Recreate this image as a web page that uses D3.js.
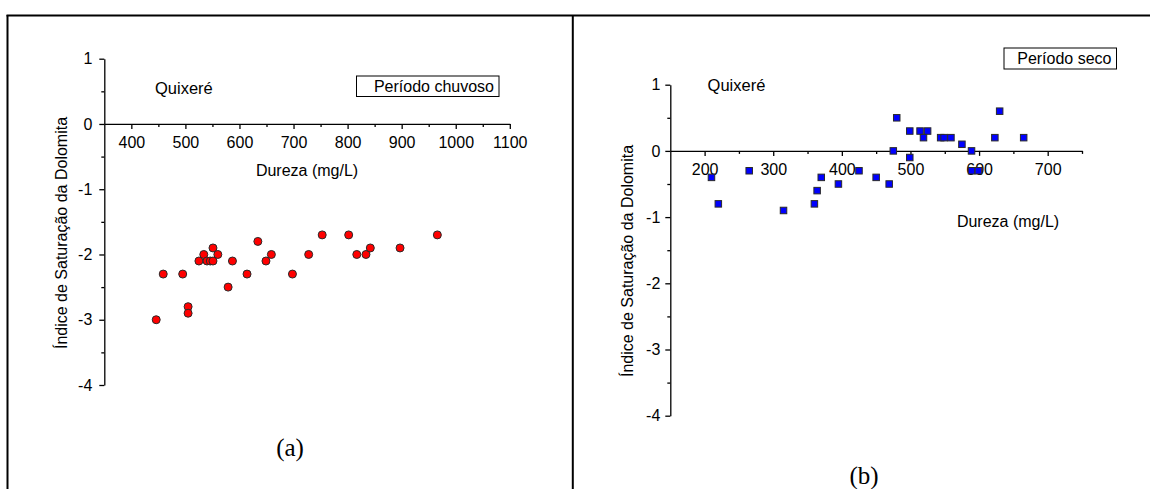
<!DOCTYPE html>
<html>
<head>
<meta charset="utf-8">
<script src="https://cdn.jsdelivr.net/npm/d3@7"></script>
<style>
  body { margin: 0; background: #fff; }
  svg { display: block; }
  text { font-family: "Liberation Sans", Arial, sans-serif; }
</style>
</head>
<body>
<svg id="chart" width="1150" height="489"></svg>
<script>
// ---- Data ----
const rainX = [446, 459, 495, 505, 505, 525, 534, 540, 546, 551, 551, 560, 579, 587, 614, 634, 649, 659, 698, 728, 753, 802, 817, 834, 842, 897, 966];
const rainY = [-3.0, -2.3, -2.3, -2.8, -2.9, -2.1, -2.0, -2.1, -2.1, -2.1, -1.9, -2.0, -2.5, -2.1, -2.3, -1.8, -2.1, -2.0, -2.3, -2.0, -1.7, -1.7, -2.0, -2.0, -1.9, -1.9, -1.7];

const dryX = [210, 220, 265, 315, 360, 364, 370, 395, 425, 450, 469, 475, 480, 499, 499, 514, 519, 525, 544, 549, 559, 575, 589, 589, 599, 623, 630, 665];
const dryY = [-0.4, -0.8, -0.3, -0.9, -0.8, -0.6, -0.4, -0.5, -0.3, -0.4, -0.5, 0.0, 0.5, 0.3, -0.1, 0.3, 0.2, 0.3, 0.2, 0.2, 0.2, 0.1, 0.0, -0.3, -0.3, 0.2, 0.6, 0.2];

const xTicksA = [400, 500, 600, 700, 800, 900, 1000, 1100];
const xMinorA = [450, 550, 650, 750, 850, 950, 1050];
const xTicksB = [200, 300, 400, 500, 600, 700];
const xMinorB = [250, 350, 450, 550, 650, 750];
const yTicks = [1, 0, -1, -2, -3, -4];
const yMinor = [0.5, -0.5, -1.5, -2.5, -3.5];

const yLabel = "Índice de Saturação da Dolomita";
const xLabel = "Dureza (mg/L)";
const site = "Quixeré";

const svg = d3.select("#chart");

// ---- Frame lines ----
svg.append("line").attr("x1", 6.5).attr("x2", 1150).attr("y1", 15.5).attr("y2", 15.5)
  .attr("stroke", "#000").attr("stroke-width", 2);
svg.append("line").attr("x1", 7.5).attr("x2", 7.5).attr("y1", 15).attr("y2", 489)
  .attr("stroke", "#000").attr("stroke-width", 2);
svg.append("line").attr("x1", 572.8).attr("x2", 572.8).attr("y1", 15).attr("y2", 489)
  .attr("stroke", "#000").attr("stroke-width", 2);

function panel(cfg) {
  const g = svg.append("g");
  const x = d3.scaleLinear().domain(cfg.xDomain).range(cfg.xRange);
  const y = d3.scaleLinear().domain([1, -4]).range(cfg.yRange);

  // x axis (at y = 0)
  g.append("g").attr("transform", `translate(0,${y(0)})`)
    .call(d3.axisBottom(x).tickValues(cfg.xTicks).tickSize(5).tickSizeOuter(0).tickPadding(8)
      .tickFormat(d => String(d)));
  g.append("g").attr("transform", `translate(0,${y(0)})`)
    .call(d3.axisBottom(x).tickValues(cfg.xMinor).tickSize(3).tickSizeOuter(0).tickFormat(""))
    .select(".domain").remove();

  // y axis
  g.append("g").attr("transform", `translate(${x(cfg.xDomain[0])},0)`)
    .call(d3.axisLeft(y).tickValues(yTicks).tickSize(5).tickSizeOuter(0).tickPadding(cfg.yPad)
      .tickFormat(d => String(d)));
  g.append("g").attr("transform", `translate(${x(cfg.xDomain[0])},0)`)
    .call(d3.axisLeft(y).tickValues(yMinor).tickSize(3).tickSizeOuter(0).tickFormat(""))
    .select(".domain").remove();

  g.selectAll(".domain").attr("stroke", "#000").attr("stroke-width", 1.3);
  g.selectAll(".tick line").attr("stroke", "#000").attr("stroke-width", 1.3);
  g.selectAll(".tick text").attr("font-size", 16).attr("fill", "#000");

  // axis titles
  g.append("text").attr("x", cfg.xLabelPos[0]).attr("y", cfg.xLabelPos[1])
    .attr("text-anchor", "middle").attr("font-size", 16).text(xLabel);
  g.append("text").attr("transform", `translate(${cfg.yLabelPos[0]},${cfg.yLabelPos[1]}) rotate(-90)`)
    .attr("text-anchor", "middle").attr("font-size", 16).text(yLabel);

  // site label
  g.append("text").attr("x", cfg.sitePos[0]).attr("y", cfg.sitePos[1])
    .attr("font-size", 16.5).text(site);

  // legend box
  const lb = cfg.legendBox;
  g.append("rect").attr("x", lb[0]).attr("y", lb[1]).attr("width", lb[2]).attr("height", lb[3])
    .attr("fill", "#fff").attr("stroke", "#000").attr("stroke-width", 1);
  g.append("text").attr("x", lb[0] + lb[2] - 5).attr("y", lb[1] + lb[3] / 2 + 5.5)
    .attr("text-anchor", "end").attr("font-size", 16).text(cfg.legendText);

  // panel letter
  g.append("text").attr("x", cfg.letterPos[0]).attr("y", cfg.letterPos[1])
    .attr("text-anchor", "middle").attr("font-size", 25)
    .style("font-family", "'Liberation Serif', 'Times New Roman', serif").text(cfg.letter);

  return { g, x, y };
}

// ---- Panel (a) ----
const A = panel({
  xDomain: [350, 1100], xRange: [104.3, 509.8], yRange: [58.7, 385],
  xTicks: xTicksA, xMinor: xMinorA, yPad: 7,
  xLabelPos: [307, 176], yLabelPos: [66.5, 233], sitePos: [155, 94],
  legendBox: [356.5, 76, 142.5, 20.5], legendText: "Período chuvoso",
  letterPos: [290, 456], letter: "(a)"
});
A.g.append("g").selectAll("circle").data(rainX.map((d, i) => [d, rainY[i]])).join("circle")
  .attr("cx", d => A.x(d[0])).attr("cy", d => A.y(d[1])).attr("r", 4)
  .attr("fill", "#ff0000").attr("stroke", "#2a2a2a").attr("stroke-width", 1);

// ---- Panel (b) ----
const B = panel({
  xDomain: [150, 750], xRange: [670.3, 1082], yRange: [84.7, 415.7],
  xTicks: xTicksB, xMinor: xMinorB, yPad: 5,
  xLabelPos: [1008, 227], yLabelPos: [632.5, 261], sitePos: [707.6, 91],
  legendBox: [1004, 48, 112.5, 21], legendText: "Período seco",
  letterPos: [864, 484], letter: "(b)"
});
const s = 6.5;
B.g.append("g").selectAll("rect").data(dryX.map((d, i) => [d, dryY[i]])).join("rect")
  .attr("x", d => B.x(d[0]) - s / 2).attr("y", d => B.y(d[1]) - s / 2)
  .attr("width", s).attr("height", s)
  .attr("fill", "#0000ff").attr("stroke", "#2a2a2a").attr("stroke-width", 1);
</script>
</body>
</html>
